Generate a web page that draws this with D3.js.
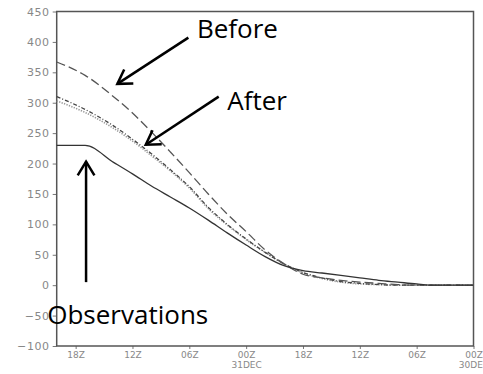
<!DOCTYPE html>
<html>
<head>
<meta charset="utf-8">
<script src="https://cdn.jsdelivr.net/npm/d3@7"></script>
<style>
  body { margin: 0; background: #fff; }
  svg { display: block; }
</style>
</head>
<body>
<div id="chart"></div>
<script>
// hours after 00Z 30DEC (time runs right to left on this plot)
const hours = [44, 41, 38, 36, 34, 32, 30, 28, 26, 24, 22, 20, 18, 16, 14, 12, 10, 8, 6, 4, 2, 0];

const observations = [230, 230, 202, 183, 163, 145, 127, 107, 86, 66, 47, 32, 24, 20, 16, 12, 8, 5, 2, 0, 0, 0];
const before       = [367, 345, 310, 283, 252, 219, 185, 150, 117, 88, 58, 35, 18, 12, 8, 5, 3, 1, 0, 0, 0, 0];
const afterA       = [310, 289, 262, 240, 216, 190, 162, 128, 100, 76, 54, 35, 21, 12, 6, 3, 1, 0, 0, 0, 0, 0];
const afterB       = [303, 284, 258, 237, 213, 188, 160, 126, 99, 75, 54, 35, 20, 11, 5, 2, 1, 0, 0, 0, 0, 0];

const yTicks = [-100, -50, 0, 50, 100, 150, 200, 250, 300, 350, 400, 450];
const xTickHours = [42, 36, 30, 24, 18, 12, 6, 0];
const xTickLabels = ["18Z", "12Z", "06Z", "00Z", "18Z", "12Z", "06Z", "00Z"];
const xTickDates = ["", "", "", "31DEC", "", "", "", "30DEC"];

// annotation text and arrows, in data coordinates (hour, value)
const notes = [
  { text: "Before", tx: 29.2, ty: 407, from: [30.1, 407], to: [37.6, 331] },
  { text: "After", tx: 26.0, ty: 288, from: [26.9, 310], to: [34.6, 231] },
  { text: "Observations", tx: 45.0, ty: -64, from: [40.9, 5], to: [40.9, 203] }
];

const W = 483, H = 374;
const margin = { top: 11.5, right: 9.5, bottom: 28, left: 56.7 };
const width = W - margin.left - margin.right;
const height = H - margin.top - margin.bottom;

const svg = d3.select("#chart").append("svg")
  .attr("width", W)
  .attr("height", H);

const g = svg.append("g")
  .attr("transform", `translate(${margin.left},${margin.top})`);

const x = d3.scaleLinear().domain([44, 0]).range([0, width]);
const y = d3.scaleLinear().domain([-100, 450]).range([height, 0]);

// y axis
const yAxis = g.append("g")
  .call(d3.axisLeft(y).tickValues(yTicks).tickSize(4).tickPadding(3));
yAxis.select(".domain").remove();
yAxis.selectAll("line").attr("stroke", "#777");
yAxis.selectAll("text")
  .attr("fill", "#888")
  .attr("font-family", "DejaVu Sans")
  .attr("font-size", "11px")
  .attr("letter-spacing", "0.6px");

// x axis
const xAxis = g.append("g")
  .attr("transform", `translate(0,${height})`)
  .call(d3.axisBottom(x).tickValues(xTickHours).tickSize(3).tickPadding(3)
    .tickFormat((d, i) => xTickLabels[i]));
xAxis.select(".domain").remove();
xAxis.selectAll("line").attr("stroke", "#777");
xAxis.selectAll("text")
  .attr("fill", "#888")
  .attr("font-family", "DejaVu Sans")
  .attr("font-size", "9px");
xAxis.selectAll(".tick").each(function(d, i) {
  if (!xTickDates[i]) return;
  d3.select(this).append("text")
    .attr("y", 16)
    .attr("dy", "0.71em")
    .attr("fill", "#888")
    .attr("font-family", "DejaVu Sans")
    .attr("font-size", "9px")
    .attr("text-anchor", "middle")
    .text(xTickDates[i]);
});

// frame
g.append("rect")
  .attr("width", width)
  .attr("height", height)
  .attr("fill", "none")
  .attr("stroke", "#555")
  .attr("stroke-width", 1.5);

const line = vals => d3.line()
  .x((d, i) => x(hours[i]))
  .y(d => y(d))
  .curve(d3.curveMonotoneX)(vals);

// lines
g.append("path")
  .attr("d", line(afterB))
  .attr("fill", "none")
  .attr("stroke", "#999")
  .attr("stroke-width", 1.6)
  .attr("stroke-dasharray", "1.3,1.3");

g.append("path")
  .attr("d", line(afterA))
  .attr("fill", "none")
  .attr("stroke", "#444")
  .attr("stroke-width", 1.3)
  .attr("stroke-dasharray", "4,2,1,2");

g.append("path")
  .attr("d", line(before))
  .attr("fill", "none")
  .attr("stroke", "#555")
  .attr("stroke-width", 1.3)
  .attr("stroke-dasharray", "9,4");

g.append("path")
  .attr("d", line(observations))
  .attr("fill", "none")
  .attr("stroke", "#333")
  .attr("stroke-width", 1.3);

// annotations
notes.forEach(n => {
  const x1 = x(n.from[0]), y1 = y(n.from[1]);
  const x2 = x(n.to[0]), y2 = y(n.to[1]);
  const a = Math.atan2(y1 - y2, x1 - x2);
  const len = 16, spread = 0.55;
  g.append("line")
    .attr("x1", x1).attr("y1", y1)
    .attr("x2", x2).attr("y2", y2)
    .attr("stroke", "#000")
    .attr("stroke-width", 2.5);
  g.append("path")
    .attr("d", `M${x2 + len * Math.cos(a + spread)},${y2 + len * Math.sin(a + spread)}` +
      `L${x2},${y2}L${x2 + len * Math.cos(a - spread)},${y2 + len * Math.sin(a - spread)}`)
    .attr("fill", "none")
    .attr("stroke", "#000")
    .attr("stroke-width", 2.5);
  g.append("text")
    .attr("x", x(n.tx))
    .attr("y", y(n.ty))
    .attr("font-family", "Open Sans")
    .attr("font-size", "26px")
    .attr("fill", "#000")
    .text(n.text);
});
</script>
</body>
</html>
